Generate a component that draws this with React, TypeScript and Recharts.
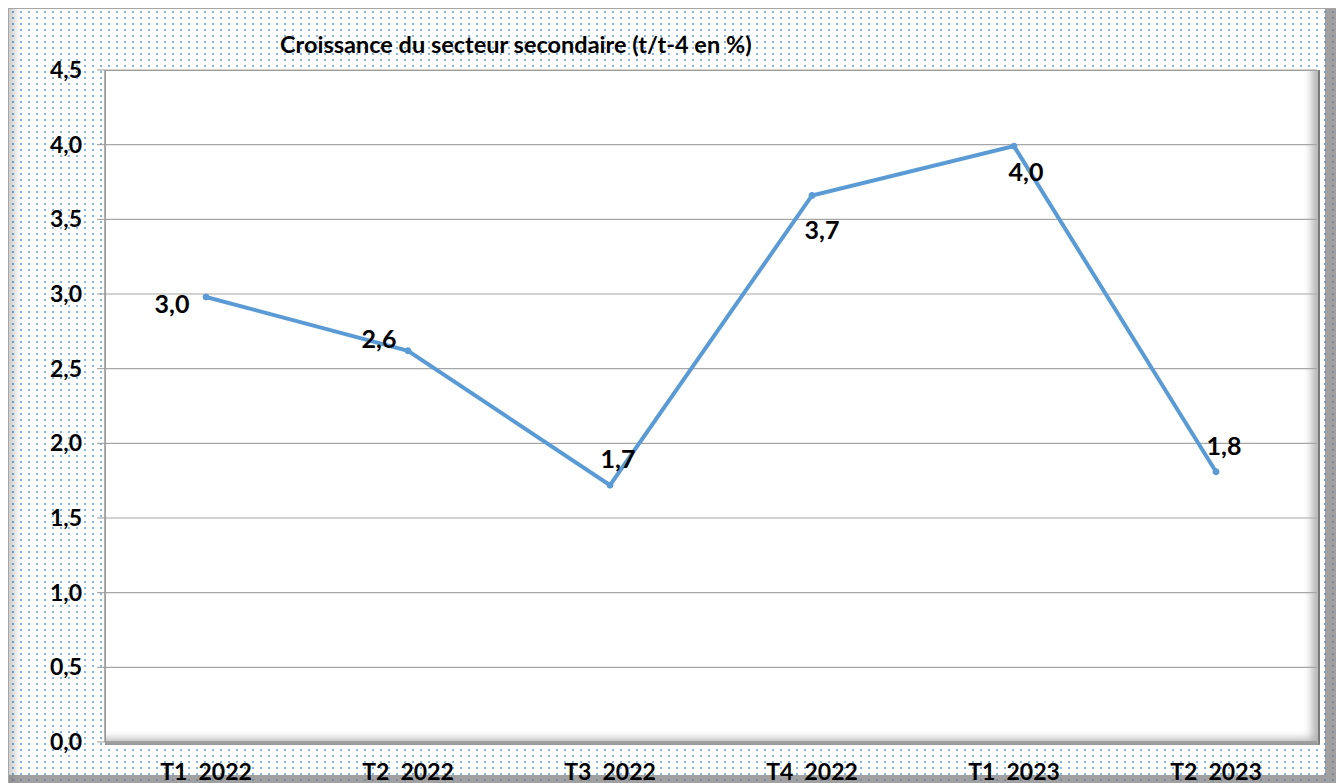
import React from 'react';
import { LineChart, Line, XAxis, YAxis, CartesianGrid, LabelList } from 'recharts';

const QUARTERS = ['T1  2022', 'T2  2022', 'T3  2022', 'T4  2022', 'T1  2023', 'T2  2023'];
const GROWTH = [2.98, 2.62, 1.72, 3.66, 3.99, 1.81];
const Y_TICKS = [0, 0.5, 1, 1.5, 2, 2.5, 3, 3.5, 4, 4.5];
const LABEL_POS = ['left', 'topLeft', 'top', 'bottom', 'bottomNear', 'top'];

const TITLE = 'Croissance du secteur secondaire (t/t-4 en %)';
const FONT = 'Lato, "Open Sans", sans-serif';
const LINE_COLOR = '#5b9bd5';

const W = 1332;
const H = 780;

const data = QUARTERS.map((q, i) => ({ q, v: GROWTH[i] }));

const fmt = (v: number) => v.toFixed(1).replace('.', ',');

// label placement around the point: [dx, dy] for the text baseline centre
const OFFSETS: Record<string, [number, number]> = {
  left: [-34, 16],
  topLeft: [-29, -3],
  top: [8, -17],
  bottom: [10, 44],
  bottomNear: [12, 35],
};

function renderLabel(props: any) {
  const { x, y, value, index } = props;
  const [dx, dy] = OFFSETS[LABEL_POS[index] || 'top'];
  return (
    <text
      x={x + dx}
      y={y + dy}
      textAnchor="middle"
      fontFamily={FONT}
      fontWeight={700}
      fontSize={25}
      fill="#000"
    >
      {fmt(value)}
    </text>
  );
}

function QuarterTick(props: any) {
  const { x, y, payload } = props;
  return (
    <text
      x={x}
      y={y + 13}
      textAnchor="middle"
      fontFamily={FONT}
      fontWeight={700}
      fontSize={23}
      fill="#000"
      style={{ whiteSpace: 'pre' }}
    >
      {payload.value}
    </text>
  );
}

export default function App() {
  return (
    <div
      style={{
        position: 'relative',
        width: W,
        height: H,
        borderTop: '1px solid #a6a6a6',
        borderLeft: '1px solid #a6a6a6',
        boxSizing: 'border-box',
        backgroundColor: '#fff',
        backgroundImage: 'radial-gradient(circle, #86b6e6 1px, transparent 1.4px)',
        backgroundSize: '8px 6px',
        boxShadow:
          'inset -15px -13px 0 rgba(120,120,120,0.7), inset 12px 0 8px -6px rgba(0,0,0,0.2)',
        overflow: 'hidden',
      }}
    >
      {/* plot area box with bevel shadow */}
      <div
        style={{
          position: 'absolute',
          left: 96,
          top: 61,
          width: 1212,
          height: 672,
          background: '#fff',
          borderTop: '1px solid #999',
          borderLeft: '1px solid #999',
          borderRight: '2px solid #7a7a7a',
          borderBottom: '2px solid #9a9a9a',
          boxShadow: 'inset -10px -8px 8px -4px rgba(0,0,0,0.3)',
        }}
      />
      <div
        style={{
          position: 'absolute',
          left: 271,
          top: 21,
          fontFamily: FONT,
          fontWeight: 700,
          fontSize: 23.5,
          color: '#000',
          whiteSpace: 'pre',
        }}
      >
        {TITLE}
      </div>
      <div style={{ position: 'absolute', left: -1, top: -1 }}>
        <LineChart
          width={W}
          height={H}
          data={data}
          margin={{ top: 62, right: 23, bottom: 16, left: 0 }}
        >
          <CartesianGrid vertical={false} stroke="#a6a6a6" strokeWidth={1.2} />
          <XAxis
            dataKey="q"
            height={30}
            padding={{ left: 101, right: 101 }}
            axisLine={{ stroke: '#999', strokeWidth: 1.5 }}
            tickLine={false}
            tickMargin={19}
            interval={0}
            tick={<QuarterTick />}
          />
          <YAxis
            domain={[0, 4.5]}
            ticks={Y_TICKS}
            width={97}
            tickFormatter={fmt}
            axisLine={{ stroke: '#999', strokeWidth: 1.5 }}
            tickLine={{ stroke: '#999' }}
            tickSize={8}
            tickMargin={15}
            tick={{ fontFamily: FONT, fontWeight: 700, fontSize: 23, fill: '#000' }}
          />
          <Line
            type="linear"
            dataKey="v"
            stroke={LINE_COLOR}
            strokeWidth={4}
            dot={{ r: 3, fill: LINE_COLOR, stroke: LINE_COLOR, strokeWidth: 1 }}
            isAnimationActive={false}
          >
            <LabelList dataKey="v" content={renderLabel} />
          </Line>
        </LineChart>
      </div>
    </div>
  );
}
